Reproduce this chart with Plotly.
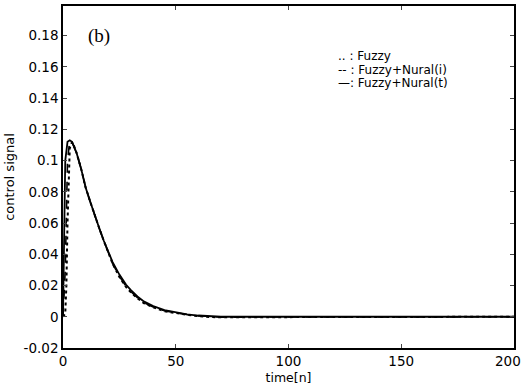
import plotly.graph_objects as go

# data
n_fuzzy = [0, 1, 1.5, 2, 3, 4, 5, 6, 8, 10, 12, 14, 16, 18, 20, 22, 25, 28, 30, 33, 36, 40, 45, 50, 55, 60, 65, 70, 80, 100, 150, 200]
u_fuzzy = [0, 0.002, 0.02, 0.06, 0.108, 0.112, 0.109, 0.105, 0.095, 0.083, 0.074, 0.065, 0.057, 0.049, 0.041, 0.034, 0.0255, 0.019, 0.0158, 0.0118, 0.0086, 0.006, 0.0036, 0.0022, 0.0012, 0.0004, -0.0002, -0.0003, -0.0003, -0.0002, -0.0001, 0]

n_nural_i = [0, 1, 2, 3, 4, 5, 6, 8, 10, 12, 14, 16, 18, 20, 22, 25, 28, 30, 33, 36, 40, 45, 50, 55, 60, 65, 70, 80, 100, 150, 200]
u_nural_i = [0, 0.03, 0.1, 0.113, 0.112, 0.109, 0.105, 0.095, 0.083, 0.074, 0.065, 0.057, 0.049, 0.041, 0.034, 0.026, 0.0195, 0.0162, 0.0122, 0.009, 0.0063, 0.0038, 0.0024, 0.0014, 0.0006, 0.0, -0.0002, -0.0002, -0.0001, 0, 0]

n_nural_t = [0, 0.5, 1, 2, 3, 4, 5, 6, 8, 10, 12, 14, 16, 18, 20, 22, 25, 28, 30, 33, 36, 40, 45, 50, 55, 60, 65, 70, 80, 100, 150, 200]
u_nural_t = [0, 0.06, 0.1, 0.112, 0.113, 0.112, 0.109, 0.105, 0.095, 0.083, 0.074, 0.065, 0.057, 0.049, 0.042, 0.035, 0.027, 0.0205, 0.0172, 0.013, 0.0097, 0.0068, 0.0042, 0.0027, 0.0016, 0.0008, 0.0002, 0, 0, 0, 0, 0]

x_ticks = [0, 50, 100, 150, 200]
x_tick_labels = ["0", "50", "100", "150", ""]
x_last_label = "200"
y_ticks = [-0.02, 0, 0.02, 0.04, 0.06, 0.08, 0.1, 0.12, 0.14, 0.16, 0.18]
y_tick_labels = ["-0.02", "0", "0.02", "0.04", "0.06", "0.08", "0.1", "0.12", "0.14", "0.16", "0.18"]

legend_lines = [".. : Fuzzy", "-- : Fuzzy+Nural(i)", "—: Fuzzy+Nural(t)"]

fig = go.Figure()
fig.add_trace(go.Scatter(x=n_fuzzy, y=u_fuzzy, mode="lines",
                         line=dict(color="black", width=2, dash="dot"), name="Fuzzy"))
fig.add_trace(go.Scatter(x=n_nural_i, y=u_nural_i, mode="lines",
                         line=dict(color="black", width=1.6, dash="dash"), name="Fuzzy+Nural(i)"))
fig.add_trace(go.Scatter(x=n_nural_t, y=u_nural_t, mode="lines",
                         line=dict(color="black", width=1.8), name="Fuzzy+Nural(t)"))

font_family = "DejaVu Sans, Liberation Sans, sans-serif"

fig.update_layout(
    width=523, height=390,
    margin=dict(l=63, r=9, t=6, b=42, autoexpand=False),
    paper_bgcolor="white", plot_bgcolor="white",
    showlegend=False,
    font=dict(family=font_family, size=13, color="black"),
    xaxis=dict(range=[0, 200], tickvals=x_ticks, ticktext=x_tick_labels,
               ticks="inside", ticklen=4, automargin=False,
               showline=True, linecolor="black", linewidth=1.5, mirror="ticks",
               showgrid=False, zeroline=False, tickfont=dict(size=13.5),
               title=dict(text="time[n]", font=dict(size=12.5), standoff=5)),
    yaxis=dict(range=[-0.02, 0.199], tickvals=y_ticks, ticktext=y_tick_labels,
               ticks="inside", ticklen=4, automargin=False,
               showline=True, linecolor="black", linewidth=1.5, mirror="ticks",
               showgrid=False, zeroline=False, tickfont=dict(size=13.5),
               title=dict(text="control signal", font=dict(size=13), standoff=6)),
)

# last x tick label, kept inside the page edge
fig.add_annotation(x=x_ticks[-1], xref="x", y=0, yref="paper", text=x_last_label,
                   showarrow=False, xanchor="right", yanchor="top", xshift=9, yshift=-3,
                   font=dict(family=font_family, size=13.5))

fig.add_annotation(x=0.051, y=0.912, xref="paper", yref="paper", text="(b)",
                   showarrow=False, xanchor="left", yanchor="middle",
                   font=dict(family="Liberation Serif, Times New Roman, serif", size=19))

for i, t in enumerate(legend_lines):
    fig.add_annotation(x=0.605, y=0.853 - i * 0.039, xref="paper", yref="paper", text=t,
                       showarrow=False, xanchor="left", yanchor="middle",
                       font=dict(family=font_family, size=12))

fig.write_html("out.html")
